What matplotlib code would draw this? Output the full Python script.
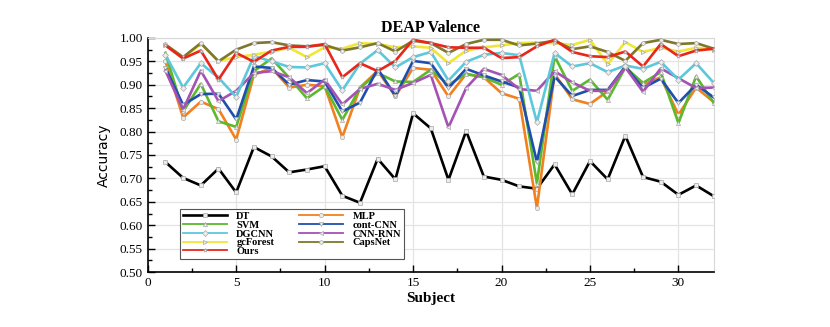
import matplotlib
matplotlib.use("Agg")
import matplotlib.pyplot as plt
from matplotlib.ticker import MultipleLocator, FormatStrFormatter

# Per-subject accuracy on DEAP valence
subjects = list(range(1, 33))

dt = [0.735, 0.701, 0.685, 0.721, 0.670, 0.767, 0.747, 0.713, 0.719, 0.726, 0.663,
      0.648, 0.742, 0.698, 0.839, 0.807, 0.697, 0.801, 0.704, 0.697, 0.683, 0.678,
      0.730, 0.666, 0.737, 0.698, 0.791, 0.703, 0.693, 0.665, 0.685, 0.662]
svm = [0.968, 0.843, 0.902, 0.822, 0.810, 0.929, 0.956, 0.915, 0.871, 0.897, 0.825,
       0.893, 0.925, 0.907, 0.906, 0.932, 0.900, 0.923, 0.916, 0.900, 0.923, 0.689,
       0.961, 0.887, 0.911, 0.868, 0.937, 0.904, 0.927, 0.818, 0.918, 0.861]
dgcnn = [0.964, 0.894, 0.946, 0.915, 0.874, 0.961, 0.950, 0.938, 0.937, 0.946, 0.888,
         0.945, 0.974, 0.937, 0.959, 0.970, 0.909, 0.949, 0.964, 0.968, 0.963, 0.820,
         0.968, 0.939, 0.946, 0.927, 0.941, 0.934, 0.949, 0.911, 0.946, 0.904]
gcforest = [0.984, 0.957, 0.987, 0.951, 0.959, 0.964, 0.971, 0.979, 0.959, 0.980, 0.977,
            0.989, 0.987, 0.980, 0.982, 0.979, 0.946, 0.973, 0.980, 0.984, 0.989, 0.990,
            0.989, 0.985, 0.996, 0.944, 0.991, 0.970, 0.979, 0.971, 0.979, 0.975]
ours = [0.984, 0.956, 0.973, 0.911, 0.968, 0.949, 0.973, 0.981, 0.981, 0.987, 0.916,
        0.946, 0.929, 0.951, 0.996, 0.989, 0.980, 0.979, 0.979, 0.957, 0.959, 0.982,
        0.996, 0.970, 0.961, 0.959, 0.971, 0.939, 0.987, 0.961, 0.973, 0.977]
mlp = [0.950, 0.830, 0.864, 0.848, 0.783, 0.921, 0.936, 0.894, 0.900, 0.897, 0.788,
       0.894, 0.930, 0.875, 0.936, 0.932, 0.875, 0.923, 0.916, 0.882, 0.870, 0.637,
       0.923, 0.869, 0.859, 0.886, 0.939, 0.900, 0.916, 0.836, 0.894, 0.863]
cont_cnn = [0.936, 0.857, 0.880, 0.881, 0.826, 0.939, 0.936, 0.900, 0.910, 0.907, 0.843,
            0.862, 0.934, 0.876, 0.951, 0.946, 0.893, 0.934, 0.920, 0.907, 0.894, 0.735,
            0.918, 0.876, 0.889, 0.889, 0.939, 0.893, 0.913, 0.861, 0.900, 0.873]
cnn_rnn = [0.930, 0.847, 0.930, 0.865, 0.887, 0.925, 0.929, 0.916, 0.882, 0.911, 0.858,
           0.891, 0.902, 0.889, 0.904, 0.921, 0.809, 0.893, 0.934, 0.921, 0.891, 0.887,
           0.929, 0.905, 0.887, 0.887, 0.937, 0.885, 0.935, 0.914, 0.893, 0.894]
capsnet = [0.986, 0.959, 0.989, 0.950, 0.975, 0.989, 0.991, 0.984, 0.982, 0.985, 0.973,
           0.980, 0.989, 0.971, 0.994, 0.989, 0.968, 0.987, 0.996, 0.996, 0.984, 0.988,
           0.994, 0.976, 0.982, 0.970, 0.951, 0.989, 0.996, 0.987, 0.989, 0.977]

# legend order: column 1 then column 2
series = [
    ("DT", dt, "#000000", "s"),
    ("SVM", svm, "#5cb82c", "^"),
    ("DGCNN", dgcnn, "#5cc8dc", "D"),
    ("gcForest", gcforest, "#f2e634", ">"),
    ("Ours", ours, "#e8261c", "*"),
    ("MLP", mlp, "#f2801e", "o"),
    ("cont-CNN", cont_cnn, "#1f4fae", "v"),
    ("CNN-RNN", cnn_rnn, "#a452b4", "<"),
    ("CapsNet", capsnet, "#7d782c", "h"),
]
# drawing order so the upper lines sit on top like the original
draw_order = ["DT", "MLP", "SVM", "cont-CNN", "CNN-RNN", "DGCNN", "gcForest", "CapsNet", "Ours"]

serif = ["Liberation Serif", "DejaVu Serif"]

fig = plt.figure(figsize=(8.3, 3.27), dpi=100)
ax = fig.add_axes([0.178, 0.168, 0.682, 0.716])

handles = {}
for name, vals, color, marker in series:
    (line,) = ax.plot(subjects, vals, color=color, lw=1.9, marker=marker, ms=3,
                      mfc="#ececec", mec="#a8a8a8", mew=0.5, label=name,
                      zorder=3 + draw_order.index(name))
    handles[name] = line

ax.set_xlim(0, 32)
ax.set_ylim(0.5, 1.0)
ax.xaxis.set_major_locator(MultipleLocator(5))
ax.xaxis.set_minor_locator(MultipleLocator(2.5))
ax.yaxis.set_major_locator(MultipleLocator(0.05))
ax.yaxis.set_minor_locator(MultipleLocator(0.025))
ax.yaxis.set_major_formatter(FormatStrFormatter("%.2f"))
ax.grid(True, which="major", color="#e4e4e4", lw=0.9, zorder=0)
ax.tick_params(which="both", direction="in", top=False, right=False, colors="black")
ax.tick_params(which="major", length=5, width=1)
ax.tick_params(which="minor", length=3, width=1)
for lbl in ax.get_xticklabels() + ax.get_yticklabels():
    lbl.set_family(serif)
    lbl.set_fontsize(9.5)

ax.spines["left"].set_linewidth(1.2)
ax.spines["bottom"].set_linewidth(1.2)
ax.spines["top"].set_color("#d8d8d8")
ax.spines["right"].set_color("#d8d8d8")

ax.set_title("DEAP Valence", fontsize=11.5, fontweight="bold", family=serif, pad=4)
ax.set_xlabel("Subject", fontsize=11, fontweight="bold", family=serif, labelpad=2)
ax.set_ylabel("Accuracy", fontsize=10, family=["Liberation Sans Narrow", "DejaVu Sans"],
              labelpad=6)

leg = ax.legend([h for h in handles.values()], [n for n, *_ in series],
                loc="lower left", bbox_to_anchor=(0.057, 0.055), borderaxespad=0,
                ncol=2, prop={"family": serif, "size": 7.5, "weight": "bold"},
                handlelength=4.2, handletextpad=0.9, columnspacing=2.4,
                labelspacing=-0.05, borderpad=0.3, fancybox=False, framealpha=1,
                edgecolor="#555555")
leg.get_frame().set_linewidth(0.8)
leg.set_zorder(20)
for lh in leg.get_lines():
    if lh.get_label() != "DT":
        lh.set_linewidth(1.3)

fig.savefig("out.png", dpi=100)
plt.close(fig)
